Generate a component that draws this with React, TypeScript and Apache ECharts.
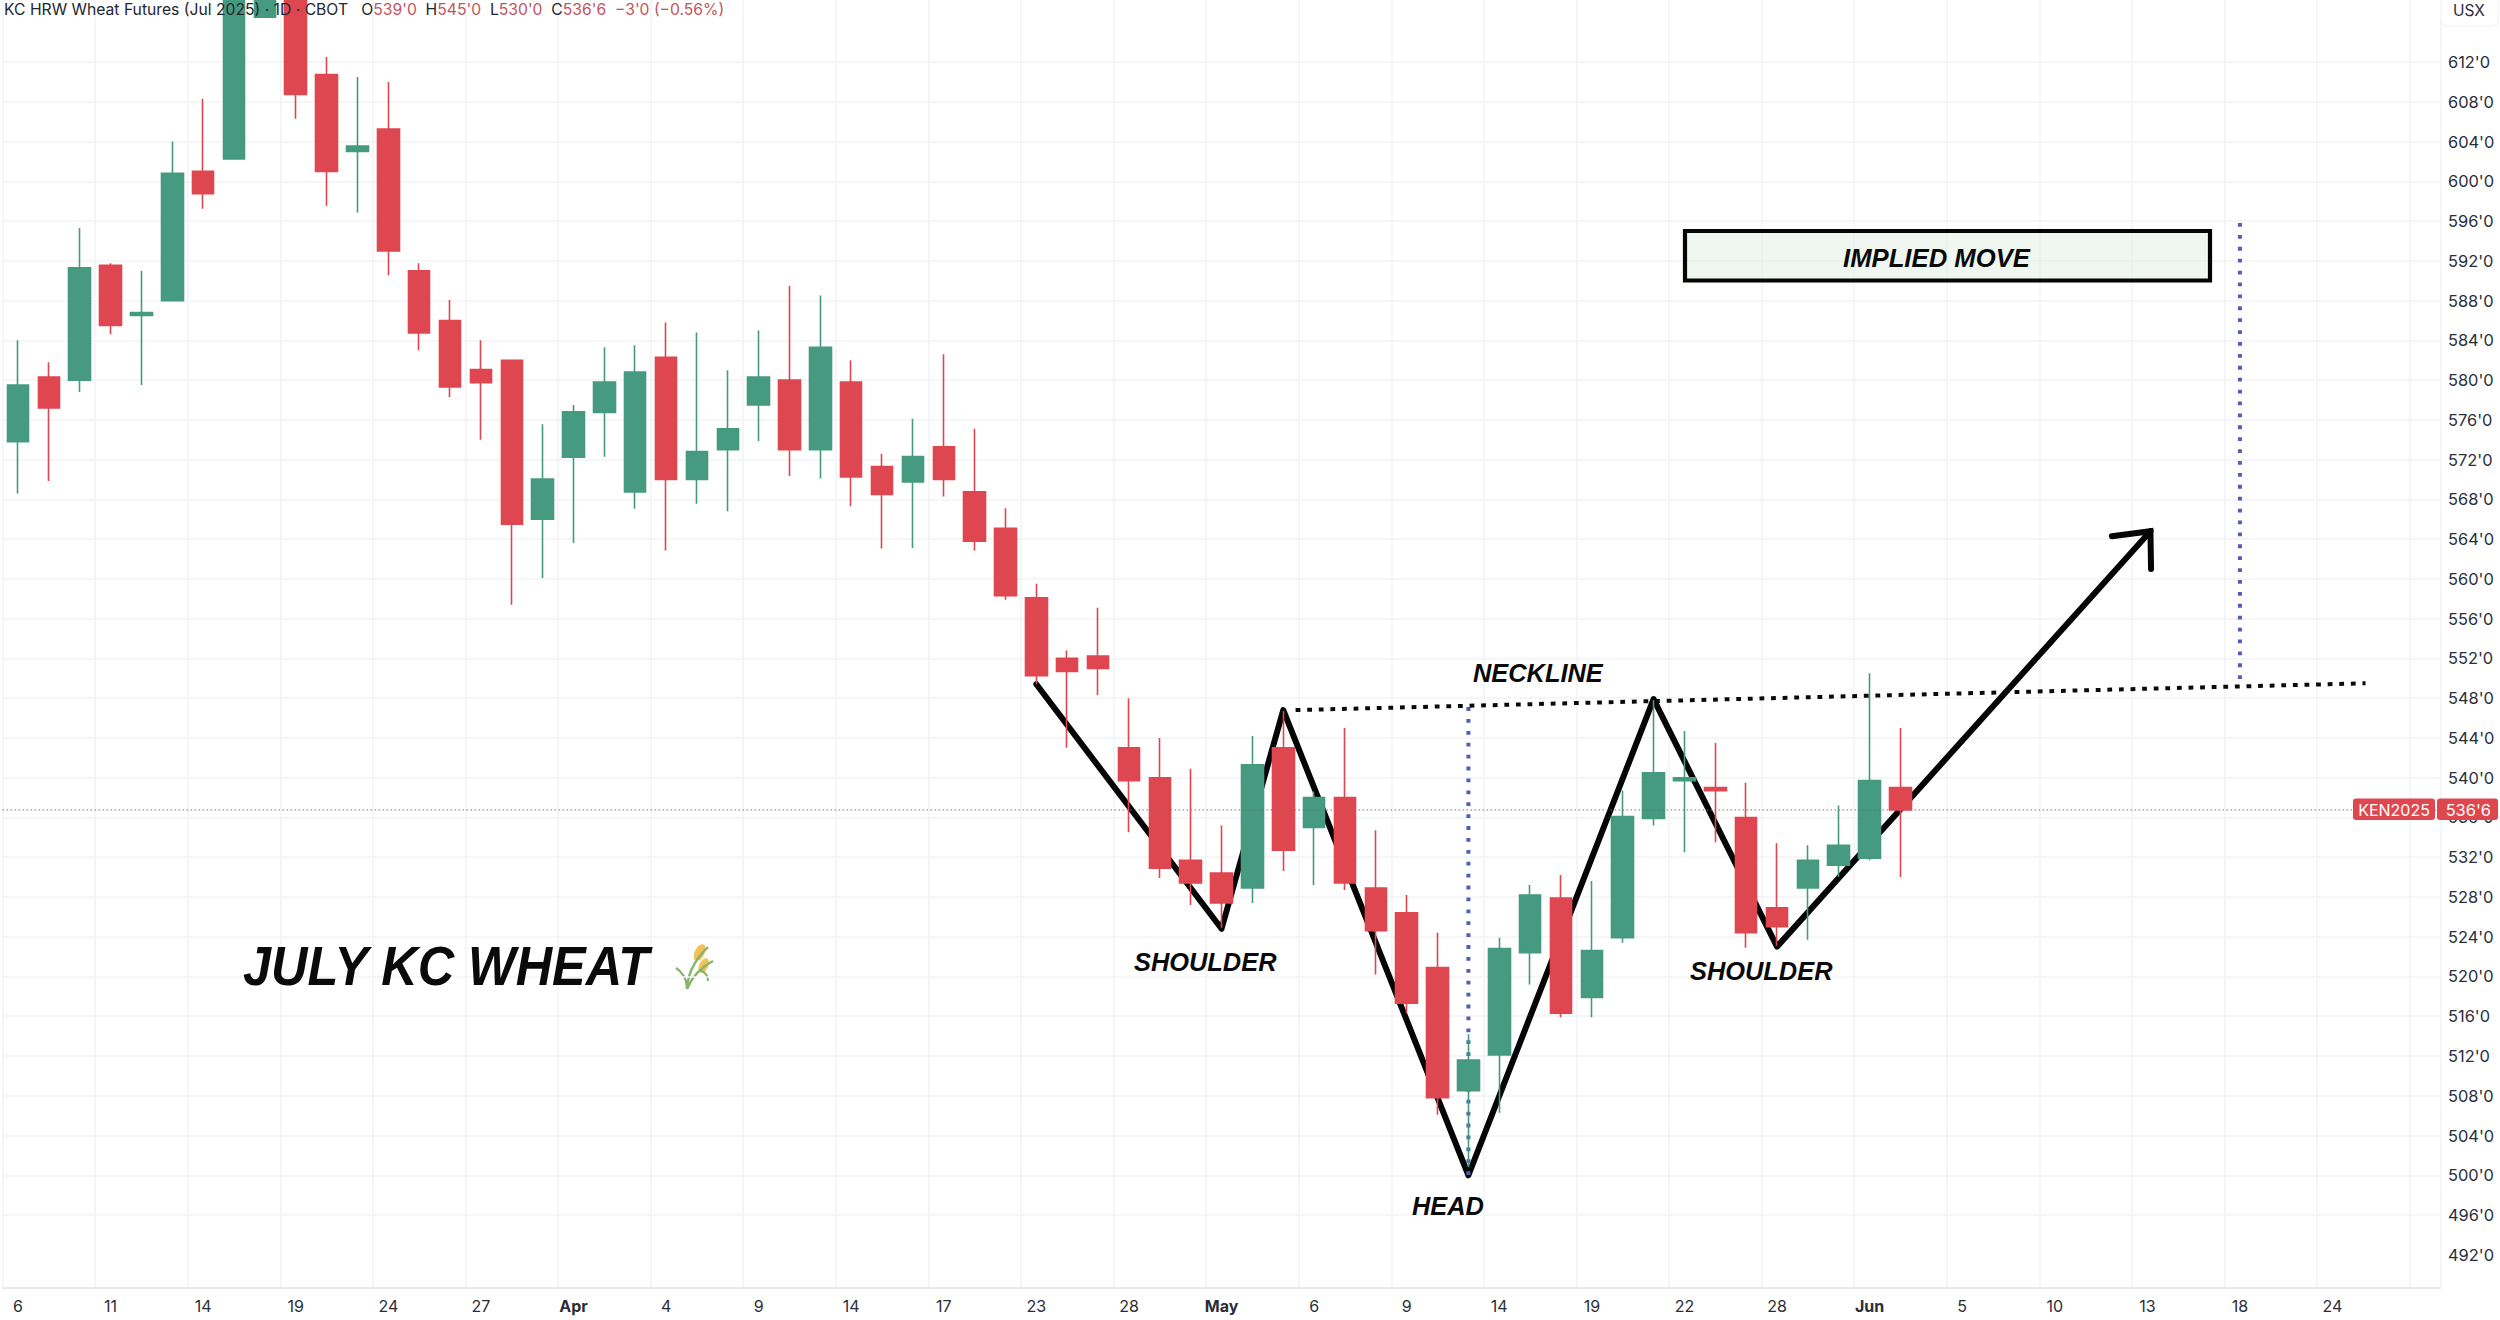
import React, { useEffect, useRef } from "react";
import * as echarts from "echarts";

const categories = [
  "6","7","10","11","12","13","14","17","18","19","20","21","24","25","26","27","28","31",
  "Apr","2","3","4","7","8","9","10","11","14","15","16","17","21","22","23","24","25","28","29","30",
  "May","2","5","6","7","8","9","12","13","14","15","16","19","20","21","22","23","27","28","29","30",
  "Jun","3","4","5","6","9","10","11","12","13","16","17","18","20","23","24","25","26","27",
];
const monthLabels = ["Apr", "May", "Jun"];
const lastLabelledBar = 75;

const opens = [573.8,580.3,580,591.55,586.5,588,601,602.25,616.5,622,610.75,603,605.25,591,586,581.05,582,566,572.25,576.75,568.75,582.3,570,573,577.5,580,573,579.8,571.3,569.75,573.3,568.75,565.1,558.1,552,552.25,543,540,531.7,530.4,528.9,543,535,538,528.9,526.4,520.9,508.5,512.1,522.4,527.9,517.9,523.9,535.9,539.7,539,536,526.9,528.9,531.2,531.9,539];
const closes = [579.5,577.2,591.3,585.5,586.8,600.8,598.75,622,622,608.75,601,603.55,593,584.75,579.3,579.75,565.5,570.05,576.8,579.8,580.8,570,572.8,575.1,580.3,573,583.3,570.25,568.5,572.3,570,563.8,558.3,550.26,550.7,551,539.7,530.9,529.4,527.4,541.3,532.7,538,529.4,524.6,517.3,507.8,511.6,522.8,528.2,516.3,522.6,536.1,540.5,540,538.7,524.4,525,531.7,533.2,539.7,536.75];
const lows = [568.6,569.85,578.8,584.6,579.5,588,597.25,602.25,616.5,606.3,597.55,596.85,590.55,583,578.3,574,557.4,560.1,563.6,572.3,567.05,562.85,567.55,566.8,573.85,570.35,570.1,567.3,563.05,563.1,568.3,562.85,557.9,549.4,543,548.3,534.5,529.9,527.2,524.9,527.4,530.6,529.2,528.7,520.2,516.3,506.1,500.8,506.3,519.2,515.9,515.9,523.4,535.2,532.5,533.5,522.9,523.1,523.7,530,531.7,530];
const highs = [584,581.8,595.3,591.75,591,604,608.3,625,626,622,612.5,610.5,610,591.75,588.05,584,582,575.55,577.5,583.3,583.5,585.8,584.8,581,585,589.5,588.5,582,572.6,576.1,582.6,575.1,567.1,559.5,552.8,557.1,548,544,540.9,535.2,544.2,546.7,538.6,545,534.7,528.2,524.4,514.2,523.9,529.2,530.2,529.6,538.7,547.8,544.7,543.5,539.5,533.4,533.2,537.2,550.5,545];

const priceTicks = [492,496,500,504,508,512,516,520,524,528,532,536,540,544,548,552,556,560,564,568,572,576,580,584,588,592,596,600,604,608,612];
const gridTicks = [...priceTicks, 616];

const patternX = [33, 39, 41, 47, 53, 57, 69.1];
const patternY = [549.4, 524.8, 546.8, 500, 547.9, 523, 564.8];
const arrowX = [67.85, 69.1, 69.12];
const arrowY = [564.3, 564.8, 561];
const necklineX = [41.4, 76.07];
const necklineY = [546.8, 549.5];
const headDropX = [47, 47];
const headDropY = [547.1, 500];
const impliedX = [72, 72];
const impliedY = [595.8, 549.1];
const lastPrice = 536.75;

const GREEN = "#459a7f";
const RED = "#df4750";
const FONT = "Inter";
const HEAD = "'Liberation Sans'";

const pairs = (xs: number[], ys: number[]) => xs.map((x, i) => [x, ys[i]]);

const overlay = (name: string, xs: number[], ys: number[], lineStyle: any, z: number) => ({
  name,
  type: "line",
  xAxisIndex: 1,
  yAxisIndex: 0,
  data: pairs(xs, ys),
  showSymbol: false,
  symbol: "none",
  silent: true,
  z,
  lineStyle,
});

const noteText = (text: string, x: number, y: number, fontSize: number, scaleX = 1) => ({
  type: "text",
  x,
  y,
  scaleX,
  z: 20,
  silent: true,
  style: {
    text,
    fill: "#0a0a0a",
    font: `italic bold ${fontSize}px ${HEAD}`,
    verticalAlign: "middle",
  },
});

export default function App() {
  const ref = useRef<HTMLDivElement>(null);
  useEffect(() => {
    document.body.style.margin = "0";
    const chart = echarts.init(ref.current!, undefined, { renderer: "svg" });
    const blue = { color: "#4f5fb6", width: 4, type: [3.8, 8.1] as any, cap: "butt" };
    const black = { color: "#050505", width: 6, cap: "round" };
    chart.setOption({
      animation: false,
      backgroundColor: "#ffffff",
      grid: { left: 2.57, right: 59.49, top: 0, bottom: 32.3, containLabel: false },
      xAxis: [
        {
          type: "category",
          data: categories,
          boundaryGap: true,
          axisLine: { show: true, lineStyle: { color: "#e0e3e8", width: 1.5 } },
          axisTick: { show: false },
          axisLabel: {
            interval: (i: number) => i % 3 === 0 && i <= lastLabelledBar,
            margin: 10,
            color: "#2a2e39",
            fontFamily: FONT,
            fontSize: 16,
            formatter: (v: string) => (monthLabels.includes(v) ? `{b|${v}}` : v),
            rich: { b: { fontWeight: "bold", fontFamily: FONT, fontSize: 16, color: "#2a2e39" } },
          },
          splitLine: {
            show: true,
            interval: (i: number) => i % 3 === 0,
            lineStyle: { color: "#f2f3f6", width: 1.5 },
          },
        },
        { type: "value", min: -0.5, max: 78.5, show: false, splitLine: { show: false } },
      ],
      yAxis: {
        type: "value",
        position: "right",
        min: 488.69,
        max: 618.24,
        scale: true,
        axisLine: { show: false },
        axisTick: { show: false, customValues: gridTicks },
        axisLabel: {
          customValues: priceTicks,
          margin: 7.5,
          color: "#2a2e39",
          fontFamily: FONT,
          fontSize: 16.4,
          formatter: (v: number) => `${v}'0`,
        },
        splitLine: { show: true, showMinLine: false, showMaxLine: false, lineStyle: { color: "#f2f3f6", width: 1.5 } },
      },
      series: [
        overlay("Price line", [-0.5, 78.5], [lastPrice, lastPrice], { color: "#8c6a6a", width: 1, type: [1.5, 2.5] }, 6),
        overlay("Pattern", patternX, patternY, { ...black, join: "round" }, 2),
        overlay("Arrow", arrowX, arrowY, { ...black, join: "miter" }, 2),
        overlay("Neckline", necklineX, necklineY, { color: "#0a0a0a", width: 4, type: [4.8, 6.8] }, 6),
        overlay("Head drop", headDropX, headDropY, blue, 3),
        overlay("Implied move", impliedX, impliedY, blue, 3),
        {
          name: "KEN2025",
          type: "candlestick",
          xAxisIndex: 0,
          yAxisIndex: 0,
          barWidth: 22,
          z: 5,
          data: opens.map((o, i) => [o, closes[i], lows[i], highs[i]]),
          itemStyle: { color: GREEN, color0: RED, borderColor: GREEN, borderColor0: RED, borderWidth: 1.6 },
        },
      ],
      graphic: [
        {
          type: "text",
          x: 4,
          y: 9,
          z: 30,
          silent: true,
          style: {
            text:
              "{k|KC HRW Wheat Futures (Jul 2025) · 1D · CBOT   O}{r|539'0}{k|  H}{r|545'0}{k|  L}{r|530'0}{k|  C}{r|536'6}{r|  −3'0 (−0.56%)}",
            font: `15.7px ${FONT}`,
            verticalAlign: "middle",
            rich: {
              k: { fill: "#23262f", font: `15.7px ${FONT}` },
              r: { fill: "#c2545e", font: `15.7px ${FONT}` },
            },
          },
        },
        {
          type: "rect",
          z: 30,
          silent: true,
          shape: { x: 2441, y: -4, width: 57, height: 30, r: 5 },
          style: { fill: "#ffffff", stroke: "#f2f3f6", lineWidth: 1.2 },
        },
        {
          type: "text",
          x: 2469,
          y: 10,
          z: 31,
          silent: true,
          style: { text: "USX", fill: "#2a2e39", font: `15.5px ${FONT}`, align: "center", verticalAlign: "middle" },
        },
        {
          type: "rect",
          z: 30,
          silent: true,
          shape: { x: 2353, y: 798.5, width: 82, height: 21.5, r: 3 },
          style: { fill: RED },
        },
        {
          type: "rect",
          z: 30,
          silent: true,
          shape: { x: 2437, y: 798.5, width: 61, height: 21.5, r: 3 },
          style: { fill: RED },
        },
        {
          type: "text",
          x: 2394,
          y: 809.5,
          z: 31,
          silent: true,
          style: { text: "KEN2025", fill: "#ffffff", font: `16px ${FONT}`, align: "center", verticalAlign: "middle" },
        },
        {
          type: "text",
          x: 2491,
          y: 809.5,
          z: 31,
          silent: true,
          style: { text: "536'6", fill: "#ffffff", font: `16.4px ${FONT}`, align: "right", verticalAlign: "middle" },
        },
        {
          type: "rect",
          z: 4,
          silent: true,
          shape: { x: 1685, y: 231, width: 525, height: 49.5 },
          style: { fill: "rgba(226,240,228,0.5)", stroke: "#050505", lineWidth: 4.2 },
        },
        noteText("IMPLIED MOVE", 1843, 257.5, 25.7),
        noteText("JULY KC WHEAT", 243, 965.5, 55, 0.917),
        noteText("SHOULDER", 1134, 961.5, 25.4),
        noteText("SHOULDER", 1690, 970.5, 25.4),
        noteText("HEAD", 1412, 1205.5, 25.4),
        noteText("NECKLINE", 1473, 673, 25.4),
        // wheat sheaf drawn as shapes because no emoji font is installed
        {
          type: "group",
          z: 20,
          silent: true,
          children: [
            { type: "ellipse", shape: { cx: 700, cy: 953, rx: 5, ry: 9 }, rotation: -0.45, originX: 700, originY: 953, style: { fill: "#efc25a" } },
            { type: "ellipse", shape: { cx: 704, cy: 966, rx: 4.5, ry: 8 }, rotation: -0.45, originX: 704, originY: 966, style: { fill: "#efc25a" } },
            { type: "bezierCurve", shape: { x1: 687, y1: 989, x2: 708, y2: 947, cpx1: 688, cpy1: 968, cpx2: 700, cpy2: 955 }, style: { stroke: "#86b46a", lineWidth: 2.4, fill: "none" } },
            { type: "bezierCurve", shape: { x1: 687, y1: 989, x2: 713, y2: 961, cpx1: 693, cpy1: 975, cpx2: 703, cpy2: 966 }, style: { stroke: "#86b46a", lineWidth: 2.4, fill: "none" } },
            { type: "bezierCurve", shape: { x1: 687, y1: 989, x2: 676, y2: 968, cpx1: 687, cpy1: 978, cpx2: 681, cpy2: 971 }, style: { stroke: "#86b46a", lineWidth: 2.4, fill: "none" } },
            { type: "bezierCurve", shape: { x1: 700, y1: 970, x2: 708, y2: 981, cpx1: 705, cpy1: 972, cpx2: 708, cpy2: 976 }, style: { stroke: "#86b46a", lineWidth: 2, fill: "none" } },
          ],
        },
      ],
    });
    return () => chart.dispose();
  }, []);
  return <div ref={ref} style={{ position: "fixed", left: 0, top: 0, width: 2500, height: 1320 }} />;
}
